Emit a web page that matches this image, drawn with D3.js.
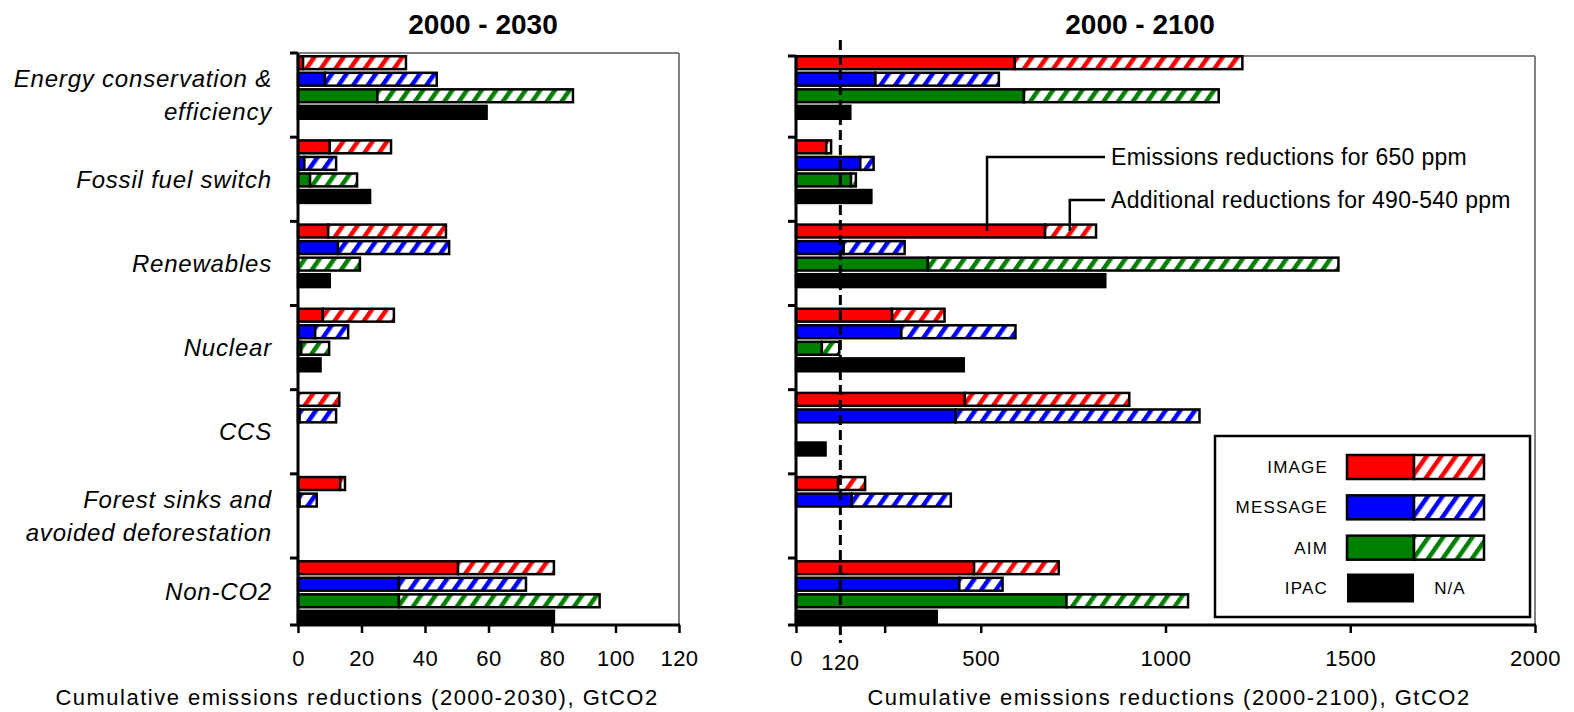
<!DOCTYPE html>
<html><head><meta charset="utf-8">
<script src="https://cdn.jsdelivr.net/npm/d3@7"></script>
<style>
body{margin:0;background:#fff;}
svg{display:block;font-family:"Liberation Sans",Arial,sans-serif;}
</style>
</head><body>
<svg id="c" width="1574" height="712"></svg>
<script>
// ---------------- DATA ----------------
const categories = ["Energy conservation & efficiency","Fossil fuel switch","Renewables","Nuclear","CCS","Forest sinks and avoided deforestation","Non-CO2"];
const categoryLines = [["Energy conservation &","efficiency"],["Fossil fuel switch"],["Renewables"],["Nuclear"],["CCS"],["Forest sinks and","avoided deforestation"],["Non-CO2"]];
const models = ["IMAGE","MESSAGE","AIM","IPAC"];

// 2000-2030 (GtCO2): reductions for 650 ppm (solid) and total incl. additional for 490-540 ppm (end of hatched)
const image650_2030   = [1.6, 10, 9.5, 7.8, 0, 13.3, 50.4];
const imageTot_2030   = [34, 29.3, 46.6, 30.2, 13, 14.8, 80.6];
const message650_2030 = [8.5, 2, 12.6, 5.4, 0.5, 0.5, 31.8];
const messageTot_2030 = [43.7, 12, 47.6, 15.8, 12, 5.9, 71.8];
const aim650_2030     = [25, 3.8, 0, 1, null, null, 31.8];
const aimTot_2030     = [86.6, 18.6, 19.5, 9.8, null, null, 95];
const ipac_2030       = [59.4, 22.7, 10, 7.1, null, null, 80.6];

// 2000-2100 (GtCO2)
const image650_2100   = [592, 82, 674, 260, 457, 114, 482];
const imageTot_2100   = [1208, 95, 812, 402, 902, 187, 711];
const message650_2100 = [215, 174, 129, 285, 432, 151, 442];
const messageTot_2100 = [549, 210, 294, 594, 1092, 419, 559];
const aim650_2100     = [617, 149, 357, 70, null, null, 732];
const aimTot_2100     = [1144, 162, 1468, 117, null, null, 1061];
const ipac_2100       = [147, 204, 837, 454, 80, null, 381];

const ticks2030 = [0, 20, 40, 60, 80, 100, 120];
const ticks2100 = [0, 240, 500, 1000, 1500, 2000];
const labels2100 = [0, 500, 1000, 1500, 2000];
const refLine2100 = 120;

const panelTitles = ["2000 - 2030", "2000 - 2100"];
const axisTitles = ["Cumulative emissions reductions (2000-2030), GtCO2", "Cumulative emissions reductions (2000-2100), GtCO2"];
const annotationTexts = ["Emissions reductions for 650 ppm", "Additional reductions for 490-540 ppm"];
const annotationValues = [517, 741];   // points on the Renewables IMAGE bar (2000-2100)
const legendSideText = "N/A";

// ---------------- SETUP ----------------
const svg = d3.select("#c");
const defs = svg.append("defs");
const colors = {IMAGE:"#ff0000", MESSAGE:"#0000ff", AIM:"#008000", IPAC:"#000000"};
models.forEach(m => {
  const p = defs.append("pattern").attr("id","hatch-"+m)
    .attr("patternUnits","userSpaceOnUse").attr("width",12).attr("height",12)
    .attr("patternTransform","rotate(35)");
  p.append("rect").attr("width",12).attr("height",12).attr("fill","#fff");
  p.append("rect").attr("width",4.5).attr("height",12).attr("fill",colors[m]);
});

const groupStep = 84.17;
const topY = 53, bottomY = 625;
const y = d3.scaleBand().domain(categories).range([topY, topY + groupStep*categories.length]);
const ySeries = d3.scaleBand().domain(models).range([2, 67]).paddingInner(0.07);
const SW = 2.5;

function panel(cfg) {
  const x = cfg.x;
  const g = svg.append("g");
  const x0 = x.range()[0], x1 = x.range()[1];
  // gray frame
  g.append("line").attr("x1",x0).attr("x2",x1).attr("y1",cfg.frameTop).attr("y2",cfg.frameTop).attr("stroke","#808080").attr("stroke-width",2);
  g.append("line").attr("x1",x1).attr("x2",x1).attr("y1",cfg.frameTop).attr("y2",bottomY).attr("stroke","#808080").attr("stroke-width",2);

  // bars
  const bars = [];
  categories.forEach((c, i) => {
    const rows = [
      {m:"IMAGE", base:cfg.image650[i], tot:cfg.imageTot[i]},
      {m:"MESSAGE", base:cfg.message650[i], tot:cfg.messageTot[i]},
      {m:"AIM", base:cfg.aim650[i], tot:cfg.aimTot[i]},
      {m:"IPAC", base:cfg.ipac[i], tot:null}
    ];
    rows.forEach(r => {
      const by = y(c) + ySeries(r.m) + SW/2;
      const bh = ySeries.bandwidth() - SW;
      if (r.base != null && r.base > 0) bars.push({x:x(0), w:x(r.base)-x(0), y:by, h:bh, fill:colors[r.m]});
      if (r.tot != null && r.tot > (r.base||0)) bars.push({x:x(r.base||0), w:x(r.tot)-x(r.base||0), y:by, h:bh, fill:"url(#hatch-"+r.m+")"});
    });
  });
  g.append("g").selectAll("rect").data(bars).join("rect")
    .attr("x",d=>d.x).attr("y",d=>d.y).attr("width",d=>Math.max(0,d.w)).attr("height",d=>d.h)
    .attr("fill",d=>d.fill).attr("stroke","#000").attr("stroke-width",SW);

  // left axis + category ticks
  g.append("line").attr("x1",x0).attr("x2",x0).attr("y1",cfg.frameTop).attr("y2",bottomY).attr("stroke","#000").attr("stroke-width",3);
  g.append("g").selectAll("line").data(categories).join("line")
    .attr("x1",x0-8).attr("x2",x0).attr("y1",c=>Math.max(y(c),cfg.frameTop)).attr("y2",c=>Math.max(y(c),cfg.frameTop))
    .attr("stroke","#000").attr("stroke-width",3);

  // bottom axis
  const ax = d3.axisBottom(x).tickValues(cfg.ticks).tickSize(8).tickSizeOuter(0).tickPadding(17)
    .tickFormat(d => cfg.labels.includes(d) ? d : "");
  const axG = g.append("g").attr("transform",`translate(0,${bottomY})`).call(ax);
  axG.select(".domain").remove();
  axG.selectAll(".tick line").attr("stroke","#000").attr("stroke-width",2.5);
  axG.selectAll(".tick text").attr("fill","#000").style("font-size","22px").style("letter-spacing","0.5px")
    .style("font-family","'Liberation Sans',Arial,sans-serif");
  g.append("line").attr("x1",x0-8).attr("x2",x1+1).attr("y1",bottomY).attr("y2",bottomY).attr("stroke","#000").attr("stroke-width",3);

  // category labels
  if (cfg.catLabels) {
    const lg = g.append("g");
    categories.forEach((c, i) => {
      const cy = (y(c) + Math.min(y(c)+y.step(), bottomY)) / 2;
      const lines = categoryLines[i];
      lines.forEach((t, k) => {
        const ly = cy + (k - (lines.length-1)/2) * 33;
        lg.append("text").attr("x", x0 - 26).attr("y", ly + 8.6).attr("text-anchor","end")
          .style("font-size","24px").style("font-style","italic").style("letter-spacing","0.8px").text(t);
      });
    });
  }
  // title
  svg.append("text").attr("x",cfg.titleX).attr("y",33.5).attr("text-anchor","middle")
    .style("font-size","28px").style("font-weight","bold").text(cfg.title);
  // axis title
  svg.append("text").attr("x",cfg.axisTitleX).attr("y",705).attr("text-anchor","middle")
    .style("font-size","22px").style("letter-spacing","1.5px").text(cfg.axisTitle);
  return g;
}

const xL = d3.scaleLinear().domain([0,120]).range([298,679]);
const xR = d3.scaleLinear().domain([0,2000]).range([796,1535]);

panel({x:xL, frameTop:53, image650:image650_2030, imageTot:imageTot_2030, message650:message650_2030, messageTot:messageTot_2030,
  aim650:aim650_2030, aimTot:aimTot_2030, ipac:ipac_2030, ticks:ticks2030, labels:ticks2030, catLabels:true,
  title:panelTitles[0], titleX:483, axisTitle:axisTitles[0], axisTitleX:357});
const gR = panel({x:xR, frameTop:56, image650:image650_2100, imageTot:imageTot_2100, message650:message650_2100, messageTot:messageTot_2100,
  aim650:aim650_2100, aimTot:aimTot_2100, ipac:ipac_2100, ticks:ticks2100, labels:labels2100, catLabels:false,
  title:panelTitles[1], titleX:1140, axisTitle:axisTitles[1], axisTitleX:1169});

// dashed reference line at 120
gR.append("line").attr("x1",xR(refLine2100)).attr("x2",xR(refLine2100)).attr("y1",40).attr("y2",643)
  .attr("stroke","#000").attr("stroke-width",3).attr("stroke-dasharray","10,5");
gR.append("text").attr("x",xR(refLine2100)).attr("y",670).attr("text-anchor","middle")
  .style("font-size","22px").style("letter-spacing","0.5px").text(refLine2100);

// annotations
const renewY = y("Renewables") + ySeries("IMAGE") + ySeries.bandwidth()/2;
const annY = [157, 200];
annotationTexts.forEach((t, i) => {
  const ax = xR(annotationValues[i]);
  gR.append("path").attr("d", `M${ax},${renewY}V${annY[i]}H1105`).attr("fill","none").attr("stroke","#000").attr("stroke-width",2.5);
  gR.append("text").attr("x",1111).attr("y",annY[i]+8.2).style("font-size","23px").style("letter-spacing","0.3px").text(t);
});

// legend
const lg = svg.append("g");
lg.append("rect").attr("x",1215).attr("y",436).attr("width",315).attr("height",181).attr("fill","#fff").attr("stroke","#000").attr("stroke-width",2.5);
const ly = d3.scalePoint().domain(models).range([467,588]);
models.forEach(m => {
  const cy = ly(m);
  lg.append("text").attr("x",1328).attr("y",cy+6).attr("text-anchor","end").style("font-size","17px").style("letter-spacing","1.2px").text(m);
  if (m === "IPAC") {
    lg.append("rect").attr("x",1347).attr("y",cy-14.5).attr("width",67).attr("height",29).attr("fill","#000");
    lg.append("text").attr("x",1450).attr("y",cy+6).attr("text-anchor","middle").style("font-size","17px").style("letter-spacing","1px").text(legendSideText);
  } else {
    lg.append("rect").attr("x",1347).attr("y",cy-12).attr("width",67).attr("height",24).attr("fill",colors[m]).attr("stroke","#000").attr("stroke-width",SW);
    lg.append("rect").attr("x",1414).attr("y",cy-12).attr("width",70).attr("height",24).attr("fill","url(#hatch-"+m+")").attr("stroke","#000").attr("stroke-width",SW);
  }
});
</script>
</body></html>
